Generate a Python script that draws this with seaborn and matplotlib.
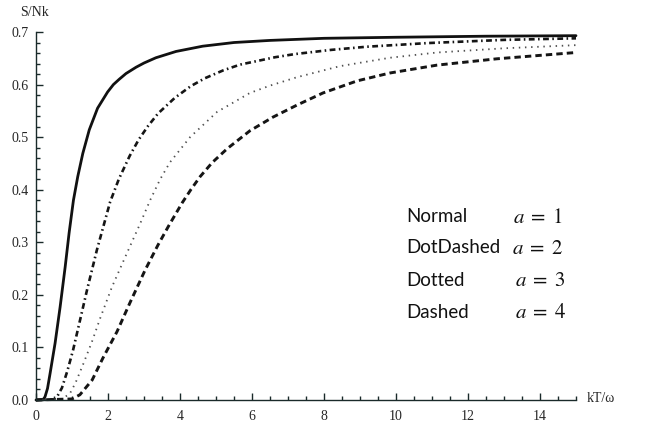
import numpy as np
import pandas as pd
import matplotlib
matplotlib.use("Agg")
import matplotlib.pyplot as plt
import seaborn as sns

# values (kT/w, S/Nk)
normal_T = [0.0, 0.2, 0.25, 0.32, 0.39, 0.53, 0.67, 0.81, 0.92, 1.04, 1.16, 1.30, 1.48, 1.71, 1.99,
            2.15, 2.31, 2.5, 2.78, 3.0, 3.33, 3.89, 4.63, 5.5, 6.5, 8.0, 10.0, 12.5, 15.0]
normal_S = [0.0, 0.001, 0.006, 0.022, 0.05, 0.108, 0.177, 0.253, 0.318, 0.38, 0.425, 0.469, 0.514, 0.555, 0.586,
            0.600, 0.610, 0.621, 0.633, 0.641, 0.651, 0.663, 0.673, 0.680, 0.684, 0.688, 0.690, 0.692, 0.693]

dotdashed_T = [0.0, 0.5, 0.6, 0.72, 0.87, 1.03, 1.2, 1.42, 1.69, 2.06, 2.3, 2.6, 2.85, 3.11, 3.39, 3.86,
               4.3, 4.69, 5.2, 5.67, 6.64, 7.19, 8.2, 9.19, 10.9, 13.0, 15.0]
dotdashed_S = [0.0, 0.001, 0.008, 0.023, 0.055, 0.095, 0.145, 0.21, 0.285, 0.377, 0.42, 0.464, 0.495, 0.521, 0.545, 0.575,
               0.597, 0.612, 0.627, 0.638, 0.652, 0.658, 0.666, 0.672, 0.679, 0.685, 0.688]

dotted_T = [0.0, 0.7, 0.94, 1.1, 1.31, 1.55, 1.78, 2.11, 2.53, 2.89, 3.17, 3.45, 3.72, 4.28, 5.03, 5.94,
            6.5, 7.25, 8.44, 9.83, 11.14, 13.0, 15.0]
dotted_S = [0.0, 0.001, 0.012, 0.033, 0.068, 0.11, 0.155, 0.215, 0.28, 0.335, 0.38, 0.42, 0.452, 0.5, 0.548, 0.584,
            0.598, 0.614, 0.635, 0.651, 0.661, 0.669, 0.675]

dashed_T = [0.0, 1.0, 1.22, 1.56, 1.86, 2.25, 2.61, 3.03, 3.39, 3.7, 4.06, 4.3, 4.56, 4.9, 5.31, 5.94,
            6.58, 7.25, 7.97, 8.92, 9.83, 11.14, 12.8, 15.0]
dashed_S = [0.0, 0.002, 0.01, 0.038, 0.08, 0.13, 0.185, 0.247, 0.295, 0.333, 0.375, 0.40, 0.425, 0.452, 0.478, 0.512,
            0.538, 0.561, 0.584, 0.607, 0.622, 0.637, 0.649, 0.661]

x_ticks = [0, 2, 4, 6, 8, 10, 12, 14]
y_ticks = [0.0, 0.1, 0.2, 0.3, 0.4, 0.5, 0.6, 0.7]

legend_names = ["Normal", "DotDashed", "Dotted", "Dashed"]
legend_a = [r"$a\;=\;1$", r"$a\;=\;2$", r"$a\;=\;3$", r"$a\;=\;4$"]

frames = []
for name, t, s in zip(legend_names,
                      [normal_T, dotdashed_T, dotted_T, dashed_T],
                      [normal_S, dotdashed_S, dotted_S, dashed_S]):
    frames.append(pd.DataFrame({"T": t, "S": s, "curve": name}))
df = pd.concat(frames, ignore_index=True)

sns.set_style("white")
plt.rcParams["mathtext.fontset"] = "stix"

fig = plt.figure(figsize=(6.46, 4.28), dpi=100)
ax = fig.add_axes([36 / 646, 28 / 428, 540 / 646, 368 / 428])

widths = {"Normal": 2.0, "DotDashed": 1.9, "Dotted": 1.3, "Dashed": 2.1}
colors = {"Normal": "#111111", "DotDashed": "#151515", "Dotted": "#505050", "Dashed": "#151515"}
dash_map = {"Normal": "", "DotDashed": (2.2, 1.3, 0.6, 1.3), "Dotted": (0.8, 2.6), "Dashed": (2.2, 1.4)}

for name in legend_names:
    sub = df[df["curve"] == name]
    sns.lineplot(data=sub, x="T", y="S", ax=ax, color=colors[name],
                 linewidth=widths[name], dashes=False, legend=False,
                 estimator=None, sort=False)
    line = ax.lines[-1]
    if dash_map[name]:
        line.set_dashes(dash_map[name])
    line.set_clip_on(False)

ax.set_xlabel("")
ax.set_ylabel("")
for side in ["top", "right"]:
    ax.spines[side].set_visible(False)
for side in ["left", "bottom"]:
    ax.spines[side].set_color("#1a2a2a")
    ax.spines[side].set_linewidth(1.0)

ax.set_xticks(x_ticks)
ax.set_xticklabels([str(v) for v in x_ticks])
ax.set_yticks(y_ticks)
ax.set_yticklabels([f"{v:.1f}" for v in y_ticks])
ax.set_xticks(np.arange(0.5, 15.01, 0.5), minor=True)
ax.set_yticks(np.arange(0.02, 0.70, 0.02), minor=True)
ax.set_xlim(0, 15)
ax.set_ylim(0, 0.7)
ax.tick_params(which="both", direction="in", color="#1a2a2a", width=1.0,
               bottom=True, left=True, top=False, right=False)
ax.tick_params(which="major", length=5)
ax.tick_params(which="minor", length=3.2)
ax.tick_params(axis="x", which="major", pad=7)
ax.tick_params(axis="y", which="major", pad=5)
for lab in ax.get_xticklabels() + ax.get_yticklabels():
    lab.set_family("Liberation Serif")
    lab.set_fontsize(10)

fig.text(20 / 646, 1 - 13 / 428, "S/Nk", family="Liberation Serif", fontsize=10, va="center", ha="left")
fig.text(587 / 646, 1 - 398 / 428, "kT/\u03c9", family="Liberation Serif", fontsize=10, va="center", ha="left")

ys = [217, 248, 280, 312]
ax_x = [513, 512, 515, 515]
for name, a_txt, py, px in zip(legend_names, legend_a, ys, ax_x):
    fig.text(406 / 646, 1 - py / 428, name, family="Lato", fontsize=13.5, va="center", ha="left", color="#111111")
    fig.text(px / 646, 1 - py / 428, a_txt, fontsize=15, va="center", ha="left", color="#111111")

fig.savefig("out.png", dpi=100)
